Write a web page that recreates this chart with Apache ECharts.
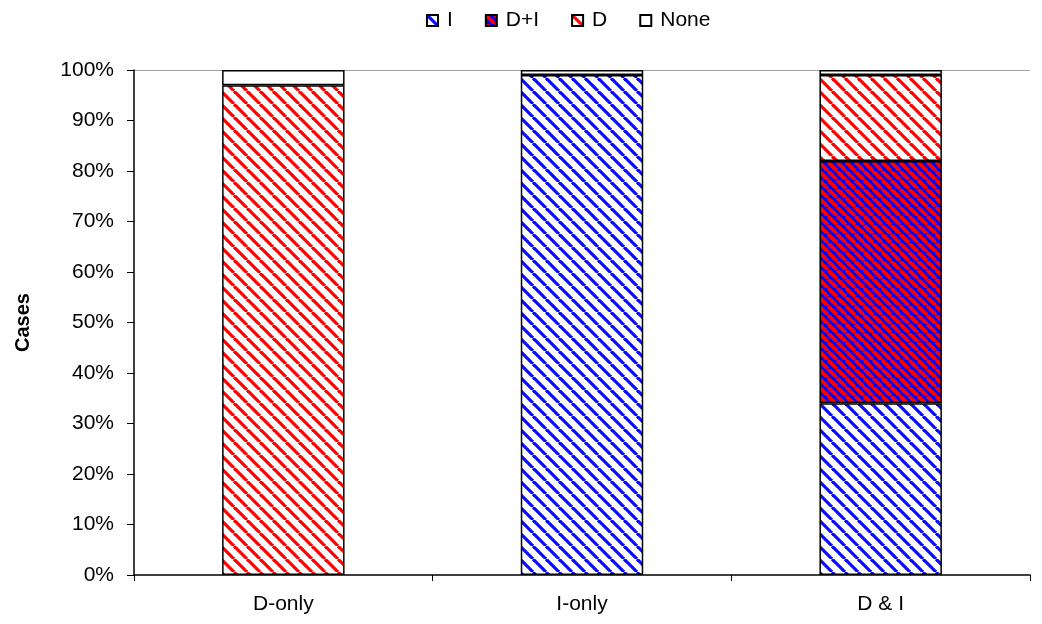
<!DOCTYPE html>
<html>
<head>
<meta charset="utf-8">
<script src="https://cdn.jsdelivr.net/npm/echarts@6/dist/echarts.min.js"></script>
<style>html,body{margin:0;padding:0;background:#fff}#c{width:1042px;height:624px}</style>
</head>
<body>
<div id="c"></div>
<script>
const categories = ['D-only', 'I-only', 'D & I'];
const seriesNames = ['I', 'D+I', 'D', 'None'];
const valuesI = [null, 99, 34];
const valuesDI = [null, null, 48];
const valuesD = [97, null, 17];
const valuesNone = [3, 1, 1];
const yTicks = [0, 10, 20, 30, 40, 50, 60, 70, 80, 90, 100];

function makePattern(bg, fg, p, lw) {
  const c = document.createElement('canvas');
  c.width = p; c.height = p;
  const ctx = c.getContext('2d');
  ctx.fillStyle = bg; ctx.fillRect(0, 0, p, p);
  ctx.strokeStyle = fg; ctx.lineWidth = lw;
  for (let k = -1; k <= 1; k++) {
    ctx.beginPath();
    ctx.moveTo(k * p, 0);
    ctx.lineTo(k * p + p, p);
    ctx.stroke();
  }
  return { image: c, repeat: 'repeat' };
}

const fills = [
  makePattern('#ffffff', '#0a0aff', 13, 3.2),
  makePattern('#0000ff', '#ff0000', 9, 3.8),
  makePattern('#ffffff', '#ff0000', 13, 3.2),
  '#ffffff'
];
const dataSets = [valuesI, valuesDI, valuesD, valuesNone];

const chart = echarts.init(document.getElementById('c'));
const font = 'Liberation Sans, Arial, sans-serif';
const splitColors = yTicks.map((t, i) => i === yTicks.length - 1 ? '#a0a0a0' : 'rgba(0,0,0,0)');

chart.setOption({
  animation: false,
  backgroundColor: '#fff',
  textStyle: { fontFamily: font },
  legend: {
    top: 5,
    left: 421,
    itemWidth: 11,
    itemHeight: 11,
    itemGap: 32,
    data: seriesNames.map(n => ({ name: n, icon: 'rect' })),
    textStyle: { fontSize: 21, color: '#000', fontFamily: font, padding: [0, 0, 0, 4] }
  },
  grid: { left: 134, right: 12, top: 70, bottom: 49 },
  xAxis: {
    type: 'category',
    data: categories,
    axisLine: { lineStyle: { color: '#000', width: 1.5 } },
    axisTick: { show: true, length: 6, lineStyle: { color: '#000' } },
    axisLabel: { fontSize: 21, color: '#000', margin: 19, fontFamily: font },
    splitLine: { show: false }
  },
  yAxis: {
    type: 'value',
    min: 0, max: 100, interval: 10,
    name: 'Cases',
    nameLocation: 'middle',
    nameGap: 101,
    nameTextStyle: { fontSize: 20, fontWeight: 'bold', color: '#000', fontFamily: font },
    axisLine: { show: true, lineStyle: { color: '#000', width: 1.5 } },
    axisTick: { show: true, length: 7, lineStyle: { color: '#000' } },
    axisLabel: { fontSize: 21, color: '#000', margin: 20, formatter: '{value}%', fontFamily: font },
    splitLine: { show: true, lineStyle: { color: splitColors, width: 1.2 } }
  },
  series: seriesNames.map((n, i) => ({
    name: n,
    type: 'bar',
    stack: 'total',
    barWidth: '41%',
    data: dataSets[i],
    itemStyle: { color: fills[i], borderColor: '#000', borderWidth: 1.5 },
    emphasis: { disabled: true }
  }))
});
</script>
</body>
</html>
